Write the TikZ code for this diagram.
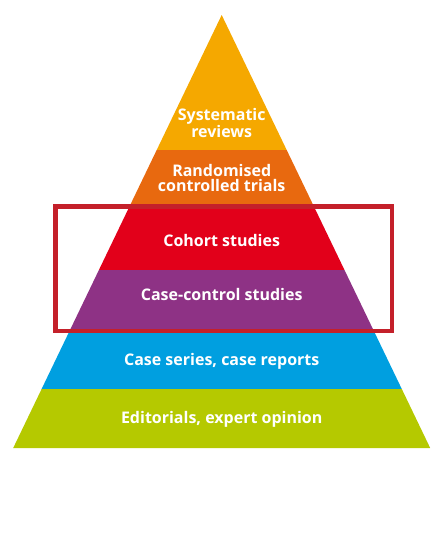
\documentclass[tikz,border=0pt]{standalone}
\usepackage{fontspec}
\setmainfont{Open Sans}
\usepackage{xcolor}
\definecolor{lvlyellow}{HTML}{F5A800}
\definecolor{lvlorange}{HTML}{E8690F}
\definecolor{lvlred}{HTML}{E2001A}
\definecolor{lvlpurple}{HTML}{8E3285}
\definecolor{lvlblue}{HTML}{009FE0}
\definecolor{lvlgreen}{HTML}{B5C900}
\definecolor{boxred}{HTML}{C4202A}
\tikzset{
  lvltext/.style={text=white, align=center, anchor=base, font=\bfseries\fontsize{16}{15}\selectfont, inner sep=0pt}
}

\begin{document}
\begin{tikzpicture}[x=1pt, y=-1pt]
\useasboundingbox (0,0) rectangle (445,550);
% top: systematic reviews
\fill[lvlyellow] (221.7,15) -- (286.7,150) -- (156.7,150) -- cycle;
\node[lvltext] (sr) at (221.7,137.5) {Systematic\\reviews};

% randomised trials
\fill[lvlorange] (156.7,150) -- (286.7,150) -- (313.2,205) -- (130.2,205) -- cycle;
\node[lvltext] (rct) at (221.7,191) {Randomised\\controlled trials};

% cohort
\fill[lvlred] (130.2,205) -- (313.2,205) -- (344.5,270) -- (98.9,270) -- cycle;
\node[lvltext] (coh) at (221.7,246) {Cohort studies};

% case-control
\fill[lvlpurple] (98.9,270) -- (344.5,270) -- (373.4,330) -- (70.0,330) -- cycle;
\node[lvltext] (cc) at (221.7,300) {Case-control studies};

% case series
\fill[lvlblue] (70.0,330) -- (373.4,330) -- (401.8,389) -- (41.6,389) -- cycle;
\node[lvltext] (cs) at (221.7,365.7) {Case series, case reports};

% opinion
\fill[lvlgreen] (41.6,389) -- (401.8,389) -- (430.2,448) -- (13.2,448) -- cycle;
\node[lvltext] (eo) at (221.7,423.3) {Editorials, expert opinion};

% highlight box
\node[draw=boxred, line width=4.5pt, inner sep=0pt, minimum width=336.5pt, minimum height=124.5pt] (hl) at (223.75,268.75) {};
\end{tikzpicture}
\end{document}
